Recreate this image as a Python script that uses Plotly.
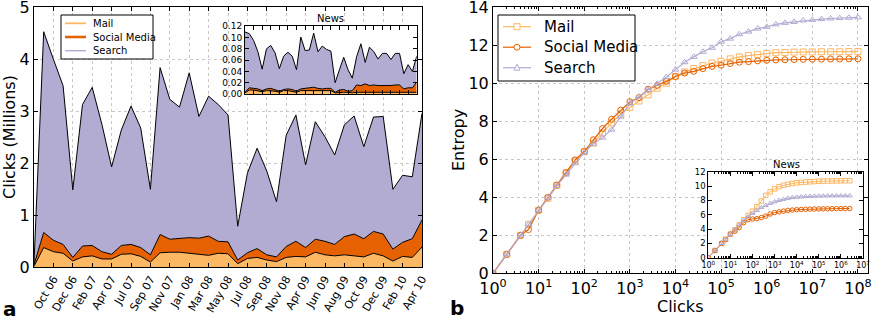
import plotly.graph_objects as go

# ---------------- data: panel a (clicks per month, millions) ----------------
month_ticks = ["Oct 06", "Dec 06", "Feb 07", "Apr 07", "Jul 07", "Sep 07", "Nov 07",
               "Jan 08", "Mar 08", "May 08", "Jul 08", "Sep 08", "Nov 08", "Apr 09",
               "Jun 09", "Aug 09", "Oct 09", "Dec 09", "Feb 10", "Apr 10"]

mail = [0.02, 0.38, 0.30, 0.27, 0.12, 0.20, 0.22, 0.16, 0.16, 0.25, 0.26, 0.21, 0.10,
        0.28, 0.29, 0.29, 0.27, 0.25, 0.23, 0.27, 0.26, 0.07, 0.17, 0.19, 0.14, 0.11,
        0.19, 0.21, 0.20, 0.29, 0.24, 0.22, 0.24, 0.22, 0.20, 0.27, 0.22, 0.12, 0.21,
        0.19, 0.39]
social = [0.03, 0.29, 0.22, 0.17, 0.07, 0.21, 0.20, 0.14, 0.09, 0.17, 0.18, 0.17, 0.14,
          0.35, 0.25, 0.26, 0.30, 0.31, 0.37, 0.23, 0.23, 0.07, 0.11, 0.17, 0.10, 0.09,
          0.21, 0.29, 0.18, 0.25, 0.26, 0.22, 0.35, 0.42, 0.35, 0.42, 0.42, 0.23, 0.27,
          0.36, 0.52]
search = [0.03, 3.86, 3.48, 3.05, 1.30, 2.72, 3.04, 2.45, 1.68, 2.22, 2.66, 2.30, 1.26,
          3.21, 2.69, 2.53, 3.17, 2.34, 2.69, 2.63, 2.44, 0.65, 1.53, 1.93, 1.61, 1.06,
          2.14, 2.43, 1.59, 2.26, 2.01, 1.72, 2.15, 2.27, 1.77, 2.20, 2.26, 1.15, 1.29,
          1.19, 2.05]

news_mail = [0.002, 0.007, 0.007, 0.006, 0.004, 0.006, 0.006, 0.005, 0.003, 0.006, 0.006,
             0.005, 0.003, 0.006, 0.006, 0.007, 0.007, 0.006, 0.006, 0.006, 0.006, 0.002,
             0.003, 0.003, 0.003, 0.002, 0.003, 0.003, 0.003, 0.003, 0.003, 0.003, 0.003,
             0.003, 0.003, 0.003, 0.003, 0.002, 0.003, 0.003, 0.003]
news_social = [0.001, 0.004, 0.003, 0.003, 0.002, 0.003, 0.004, 0.003, 0.002, 0.002, 0.003,
               0.003, 0.002, 0.003, 0.004, 0.004, 0.005, 0.004, 0.003, 0.004, 0.004, 0.001,
               0.004, 0.005, 0.002, 0.004, 0.013, 0.012, 0.015, 0.012, 0.013, 0.012, 0.012,
               0.011, 0.012, 0.013, 0.013, 0.007, 0.008, 0.008, 0.018]
news_search = [0.107, 0.096, 0.085, 0.066, 0.038, 0.071, 0.076, 0.065, 0.040, 0.059, 0.065,
               0.059, 0.038, 0.092, 0.067, 0.067, 0.096, 0.065, 0.076, 0.069, 0.066, 0.017,
               0.036, 0.057, 0.038, 0.022, 0.050, 0.074, 0.038, 0.068, 0.059, 0.047, 0.057,
               0.058, 0.046, 0.056, 0.056, 0.027, 0.041, 0.029, 0.046]

# ---------------- data: panel b (entropy vs clicks) ----------------
clicks = [1, 2, 4, 6, 10, 16, 25, 40, 63, 100, 158, 251, 398, 631, 1000, 1585, 2512,
          3981, 6310, 10000, 15849, 25119, 39811, 63096, 100000, 158489, 251189, 398107,
          630957, 1000000, 1584893, 2511886, 3981072, 6309573, 10000000, 15848932,
          25118864, 39810717, 63095734, 100000000]
ent_mail = [0, 1.0, 2.0, 2.58, 3.32, 3.95, 4.62, 5.28, 5.9, 6.4, 6.85, 7.38, 7.92, 8.38,
            8.73, 9.07, 9.39, 9.74, 10.0, 10.35, 10.6, 10.77, 10.93, 11.07, 11.16, 11.29,
            11.39, 11.46, 11.52, 11.57, 11.61, 11.62, 11.64, 11.65, 11.65, 11.66, 11.66,
            11.66, 11.67, 11.67]
ent_social = [0, 1.0, 2.0, 2.3, 3.32, 4.0, 4.65, 5.3, 5.97, 6.41, 7.03, 7.62, 8.11, 8.59,
              9.03, 9.25, 9.69, 9.89, 10.10, 10.36, 10.54, 10.63, 10.77, 10.89, 10.95,
              11.04, 11.11, 11.14, 11.18, 11.21, 11.23, 11.24, 11.25, 11.26, 11.27, 11.27,
              11.28, 11.28, 11.29, 11.29]
ent_search = [0, 1.0, 2.0, 2.58, 3.32, 4.0, 4.6, 5.2, 5.8, 6.35, 6.82, 7.14, 7.56, 8.24,
              8.94, 9.3, 9.65, 9.97, 10.33, 10.72, 11.11, 11.39, 11.66, 11.87, 12.19,
              12.35, 12.58, 12.72, 12.88, 12.97, 13.1, 13.18, 13.23, 13.31, 13.34, 13.38,
              13.41, 13.43, 13.45, 13.47]

news_clicks = clicks[:32]
news_ent_mail = [0, 1, 2, 2.58, 3.3, 3.9, 4.6, 5.3, 5.9, 6.5, 7.1, 7.9, 8.7, 9.2, 9.6, 9.9,
                 10.1, 10.25, 10.35, 10.45, 10.5, 10.55, 10.6, 10.63, 10.66, 10.68, 10.7,
                 10.71, 10.72, 10.73, 10.74, 10.74]
news_ent_social = [0, 1, 2, 2.5, 3.3, 3.7, 4.2, 4.9, 5.3, 5.4, 5.45, 5.6, 5.8, 6.1, 6.3,
                   6.4, 6.5, 6.6, 6.65, 6.7, 6.73, 6.76, 6.78, 6.8, 6.81, 6.82, 6.83,
                   6.84, 6.85, 6.85, 6.86, 6.86]
news_ent_search = [0, 1, 2, 2.58, 3.3, 3.95, 4.6, 5.2, 5.7, 6.2, 6.6, 7.0, 7.3, 7.6, 7.8,
                   8.0, 8.15, 8.3, 8.4, 8.45, 8.5, 8.55, 8.58, 8.6, 8.6, 8.62, 8.63, 8.64,
                   8.64, 8.65, 8.65, 8.65]

names = ["Mail", "Social Media", "Search"]
colors = ["#fdb863", "#e66101", "#b2abd2"]
symbols = ["square-open", "circle-open", "triangle-up-open"]

W, H = 872, 319
FONT = "DejaVu Sans"


def X(p):
    return p / W


def Y(p):
    return 1 - p / H


fig = go.Figure()

# ---- panel a: stacked areas ----
idx = list(range(len(search)))
for nm, vals, col in zip(names, [mail, social, search], colors):
    fig.add_trace(go.Scatter(x=idx, y=vals, stackgroup="a", mode="lines",
                             line=dict(color="black", width=1), fillcolor=col,
                             name=nm, showlegend=False, xaxis="x", yaxis="y",
                             hoverinfo="skip"))
for nm, vals, col in zip(names, [news_mail, news_social, news_search], colors):
    fig.add_trace(go.Scatter(x=idx, y=vals, stackgroup="news", mode="lines",
                             line=dict(color="black", width=1), fillcolor=col,
                             name=nm, showlegend=False, xaxis="x3", yaxis="y3",
                             hoverinfo="skip"))

# ---- panel b: entropy curves ----
for nm, vals, col, sym in zip(names, [ent_mail, ent_social, ent_search], colors, symbols):
    fig.add_trace(go.Scatter(x=clicks, y=vals, mode="lines+markers", name=nm,
                             line=dict(color=col, width=1.2),
                             marker=dict(symbol=sym, size=6, color=col,
                                         line=dict(color=col, width=1)),
                             showlegend=False, xaxis="x2", yaxis="y2", hoverinfo="skip"))
for nm, vals, col, sym in zip(names, [news_ent_mail, news_ent_social, news_ent_search],
                              colors, symbols):
    fig.add_trace(go.Scatter(x=news_clicks, y=vals, mode="lines+markers", name=nm,
                             line=dict(color=col, width=1),
                             marker=dict(symbol=sym, size=4.5, color=col,
                                         line=dict(color=col, width=1)),
                             showlegend=False, xaxis="x4", yaxis="y4", hoverinfo="skip"))

common = dict(showline=True, linecolor="black", linewidth=1, mirror="ticks",
              ticks="inside", ticklen=4, tickcolor="black", zeroline=False,
              automargin=False, ticklabeloverflow="allow")
grid = dict(showgrid=True, gridcolor="#c8c8c8", griddash="dot", gridwidth=1)


def tf(size):
    return dict(family=FONT, color="black", size=size)


dec_vals = [10 ** i for i in range(9)]
dec_text = ["10<sup>%d</sup>" % i for i in range(9)]
minor_main = [m * 10 ** d for d in range(9) for m in range(2, 10)]
minor_inset = [m * 10 ** d for d in range(7) for m in range(2, 10)]

fig.update_layout(
    width=W, height=H, margin=dict(l=0, r=0, t=0, b=0, autoexpand=False),
    paper_bgcolor="#ffffff", plot_bgcolor="#fefefe",
    font=dict(family=FONT, color="black"), showlegend=False,
    xaxis=dict(domain=[X(34), X(422)], range=[0, 40], tickmode="array",
               tickvals=list(range(2, 41, 2)), ticktext=month_ticks, tickangle=-60,
               anchor="y", tickfont=tf(11), **common, **grid),
    yaxis=dict(domain=[Y(267.3), Y(7.3)], range=[0, 5], dtick=1, anchor="x",
               tickfont=tf(16), **common, **grid),
    xaxis2=dict(domain=[X(493), X(868)], type="log", range=[0, 8.22],
                tickmode="array", tickvals=dec_vals, ticktext=dec_text, anchor="y2",
                minor=dict(tickmode="array", tickvals=minor_main, ticks="inside",
                           ticklen=2, tickcolor="black", showgrid=False),
                tickfont=tf(16), **common, **grid),
    yaxis2=dict(domain=[Y(273.3), Y(7.3)], range=[0, 14], dtick=2, anchor="x2",
                tickfont=tf(16), **common, **grid),
    xaxis3=dict(domain=[X(245), X(416.7)], range=[0, 40], showticklabels=False,
                tickmode="array", tickvals=list(range(2, 41, 2)), showgrid=False,
                anchor="y3", **common),
    yaxis3=dict(domain=[Y(94), Y(26.3)], range=[0, 0.12], dtick=0.02,
                tickformat=".2f", showgrid=False, anchor="x3", tickfont=tf(9), **common),
    xaxis4=dict(domain=[X(708.3), X(863)], type="log", range=[0, 7],
                tickmode="array", tickvals=dec_vals[:8], ticktext=dec_text[:8],
                minor=dict(tickmode="array", tickvals=minor_inset, ticks="inside",
                           ticklen=2, tickcolor="black", showgrid=False),
                showgrid=False, anchor="y4", tickfont=tf(8), **common),
    yaxis4=dict(domain=[Y(257.7), Y(171.7)], range=[0, 12], dtick=2,
                showgrid=False, anchor="x4", tickfont=tf(8.5), **common),
)

# ---- legends drawn as shapes + text ----
shapes = []
annots = []

# panel a legend
shapes.append(dict(type="rect", xref="paper", yref="paper", x0=X(61), x1=X(153),
                   y0=Y(59), y1=Y(15), line=dict(color="black", width=1),
                   fillcolor="white", layer="above"))
for i, (nm, col, w) in enumerate(zip(names, colors, [1.8, 2.6, 1.4])):
    yy = 23.3 + 13.7 * i
    shapes.append(dict(type="line", xref="paper", yref="paper", x0=X(65), x1=X(86),
                       y0=Y(yy), y1=Y(yy), line=dict(color=col, width=w), layer="above"))
    annots.append(dict(text=nm, x=X(91), y=Y(yy), size=10, xanchor="left"))

# panel b legend
shapes.append(dict(type="rect", xref="paper", yref="paper", x0=X(498), x1=X(635),
                   y0=Y(81), y1=Y(15), line=dict(color="black", width=1),
                   fillcolor="white", layer="above"))
for i, (nm, col) in enumerate(zip(names, colors)):
    yy = 26.7 + 20.5 * i
    shapes.append(dict(type="line", xref="paper", yref="paper", x0=X(503), x1=X(531),
                       y0=Y(yy), y1=Y(yy), line=dict(color=col, width=1.2), layer="above"))
    cx, r = 517, 3
    if i == 0:
        shapes.append(dict(type="rect", xref="paper", yref="paper", x0=X(cx - r),
                           x1=X(cx + r), y0=Y(yy + r), y1=Y(yy - r),
                           line=dict(color=col, width=1), fillcolor="white", layer="above"))
    elif i == 1:
        shapes.append(dict(type="circle", xref="paper", yref="paper", x0=X(cx - r),
                           x1=X(cx + r), y0=Y(yy + r), y1=Y(yy - r),
                           line=dict(color=col, width=1), fillcolor="white", layer="above"))
    else:
        path = "M %f %f L %f %f L %f %f Z" % (X(cx - r), Y(yy + 2.5), X(cx + r), Y(yy + 2.5),
                                               X(cx), Y(yy - 3.5))
        shapes.append(dict(type="path", xref="paper", yref="paper", path=path,
                           line=dict(color=col, width=1), fillcolor="white", layer="above"))
    annots.append(dict(text=nm, x=X(542), y=Y(yy), size=15, xanchor="left"))

fig.update_layout(shapes=shapes)

# ---- titles and labels ----
annots += [
    dict(text="Clicks (Millions)", x=X(9), y=Y(137), textangle=-90, size=16),
    dict(text="Entropy", x=X(458), y=Y(140), textangle=-90, size=16),
    dict(text="Clicks", x=X(680), y=Y(306), size=16),
    dict(text="<b>a</b>", x=X(10), y=Y(309), size=20),
    dict(text="<b>b</b>", x=X(457), y=Y(308), size=20),
    dict(text="News", x=X(330), y=Y(19), size=10),
    dict(text="News", x=X(786), y=Y(164), size=10),
]
for a in annots:
    fig.add_annotation(text=a["text"], x=a["x"], y=a["y"], xref="paper", yref="paper",
                       xanchor=a.get("xanchor", "center"), yanchor="middle",
                       showarrow=False, textangle=a.get("textangle", 0),
                       font=dict(family=FONT, size=a["size"], color="black"))

fig.write_html("out.html", config={"displayModeBar": False, "staticPlot": True},
               post_script="document.body.style.margin='0px';"
                           "document.body.style.overflow='hidden';")
